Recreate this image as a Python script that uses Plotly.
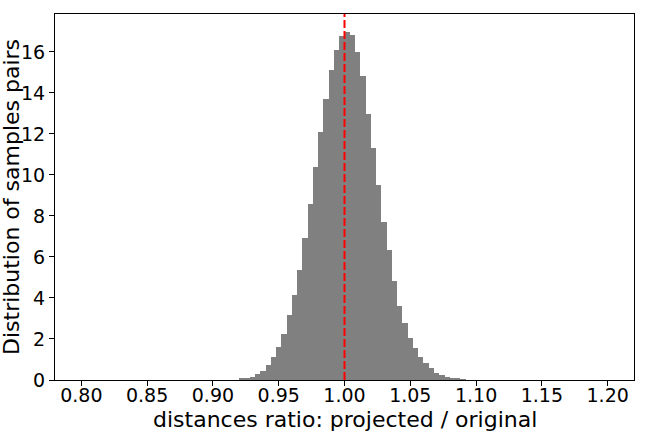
import plotly.graph_objects as go

# histogram of distance ratios (density), bin width 0.004
bin_left = [
    0.920, 0.924, 0.928, 0.932, 0.936, 0.940, 0.944, 0.948, 0.952, 0.956,
    0.960, 0.964, 0.968, 0.972, 0.976, 0.980, 0.984, 0.988, 0.992, 0.996,
    1.000, 1.004, 1.008, 1.012, 1.016, 1.020, 1.024, 1.028, 1.032, 1.036,
    1.040, 1.044, 1.048, 1.052, 1.056, 1.060, 1.064, 1.068, 1.072, 1.076,
    1.080, 1.084, 1.088,
]
density = [
    0.05, 0.11, 0.16, 0.29, 0.44, 0.73, 1.12, 1.61, 2.24, 3.17,
    4.15, 5.37, 6.93, 8.59, 10.39, 12.10, 13.71, 15.12, 16.10, 16.80,
    16.98, 16.83, 16.00, 14.83, 12.98, 11.32, 9.51, 7.71, 6.34, 4.83,
    3.61, 2.78, 2.05, 1.56, 1.12, 0.83, 0.59, 0.34, 0.24, 0.15,
    0.10, 0.05, 0.04,
]
bin_width = 0.004
x_ticks = [0.80, 0.85, 0.90, 0.95, 1.00, 1.05, 1.10, 1.15, 1.20]
y_ticks = [0, 2, 4, 6, 8, 10, 12, 14, 16]
ref_ratio = 1.0
x_title = "distances ratio: projected / original"
y_title = "Distribution of samples pairs"

W, H = 648, 432
M = dict(l=55, r=14, t=14, b=52)

fig = go.Figure()

fig.add_trace(go.Bar(
    x=bin_left,
    y=density,
    width=bin_width,
    offset=0,
    marker=dict(color="#808080", line=dict(width=0)),
    showlegend=False,
    hoverinfo="skip",
))

# reference line at ratio = 1
fig.add_shape(
    type="line", xref="x", yref="paper",
    x0=ref_ratio, x1=ref_ratio, y0=0, y1=1,
    line=dict(color="red", width=2, dash="8px,3px"),
)

# axis titles as annotations so they sit where matplotlib put them
pw = W - M["l"] - M["r"]
ph = H - M["t"] - M["b"]
fig.add_annotation(
    text=x_title, xref="paper", yref="paper",
    x=0.5, y=-(419 - (H - M["b"])) / ph,
    xanchor="center", yanchor="middle", showarrow=False,
    font=dict(size=22),
)
fig.add_annotation(
    text=y_title, xref="paper", yref="paper",
    x=-(M["l"] - 11) / pw, y=0.5, textangle=-90,
    xanchor="center", yanchor="middle", showarrow=False,
    font=dict(size=22),
)

font = "DejaVu Sans, sans-serif"
fig.update_layout(
    width=W, height=H,
    margin=M,
    plot_bgcolor="white",
    paper_bgcolor="white",
    bargap=0,
    font=dict(family=font, size=19, color="black"),
)

fig.update_xaxes(
    range=[0.78, 1.22],
    tickvals=x_ticks,
    ticktext=[f"{v:.2f}" for v in x_ticks],
    ticks="outside", ticklen=5, tickcolor="black",
    ticklabelstandoff=-7,
    showline=True, linecolor="black", linewidth=1, mirror=True,
    showgrid=False, zeroline=False, automargin=False,
)
fig.update_yaxes(
    range=[0, 17.85],
    tickvals=y_ticks,
    ticks="outside", ticklen=5, tickcolor="black",
    showline=True, linecolor="black", linewidth=1, mirror=True,
    showgrid=False, zeroline=False, automargin=False,
)

# drop the default page margin so the figure sits at the top-left corner
fig.write_html("out.html", config={"displayModeBar": False},
               post_script="document.body.style.margin='0';")
